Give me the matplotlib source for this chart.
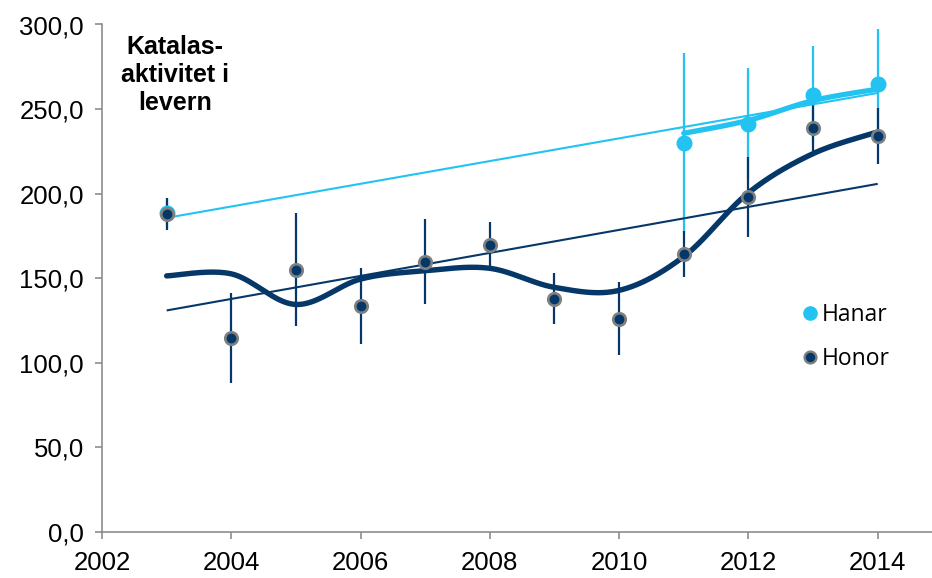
import numpy as np
import matplotlib
matplotlib.use("Agg")
import matplotlib.pyplot as plt
from matplotlib.lines import Line2D
from matplotlib import font_manager as fm

# Catalase activity in the liver, yearly means with standard deviation
years = [2003, 2004, 2005, 2006, 2007, 2008, 2009, 2010, 2011, 2012, 2013, 2014]
honor_mean = [188.0, 114.8, 155.0, 133.7, 159.8, 169.8, 138.0, 126.0, 164.5, 198.0, 239.0, 234.0]
honor_sd = [9.5, 26.7, 33.5, 22.3, 25.3, 13.6, 15.0, 21.5, 13.5, 23.5, 13.5, 16.7]

hanar_years = [2003, 2011, 2012, 2013, 2014]
hanar_mean = [188.6, 230.0, 241.4, 258.6, 265.0]
hanar_sd = [9.0, 53.0, 33.0, 28.5, 32.5]

y_ticks = [0, 50, 100, 150, 200, 250, 300]
x_ticks = [2002, 2004, 2006, 2008, 2010, 2012, 2014]

HANAR = "#22c3f1"
HONOR = "#053869"
AXIS = "#8c8c8c"


def find_font(family, bold=False):
    """Locate the regular-width file of a family (skip Narrow variants)."""
    for f in fm.fontManager.ttflist:
        if f.name != family or "narrow" in f.fname.lower():
            continue
        is_bold = f.weight in ("bold", 700) or (isinstance(f.weight, int) and f.weight >= 700)
        if is_bold == bold and f.style == "normal":
            return fm.FontProperties(fname=f.fname)
    return fm.FontProperties(family=[family, "DejaVu Sans"],
                             weight="bold" if bold else "normal")


arial = find_font("Liberation Sans")
arial_bold = find_font("Liberation Sans", bold=True)


def centered_average(x, y):
    """3-point centered moving average within contiguous yearly runs."""
    x = np.asarray(x, float)
    y = np.asarray(y, float)
    out = []
    for i in range(len(x)):
        vals = [y[i]]
        if i > 0 and x[i] - x[i - 1] == 1:
            vals.append(y[i - 1])
        if i < len(x) - 1 and x[i + 1] - x[i] == 1:
            vals.append(y[i + 1])
        out.append(np.mean(vals))
    return np.array(out)


def contiguous_runs(x):
    runs, start = [], 0
    for i in range(1, len(x) + 1):
        if i == len(x) or x[i] - x[i - 1] != 1:
            runs.append((start, i))
            start = i
    return runs


def smooth_curve(x, y, n=40):
    """Catmull-Rom style smoothed polyline through the points."""
    x = np.asarray(x, float)
    y = np.asarray(y, float)
    px = np.concatenate([[x[0]], x, [x[-1]]])
    py = np.concatenate([[y[0]], y, [y[-1]]])
    xs, ys = [], []
    t = np.linspace(0, 1, n)
    for i in range(1, len(px) - 2):
        p0 = np.array([px[i - 1], py[i - 1]])
        p1 = np.array([px[i], py[i]])
        p2 = np.array([px[i + 1], py[i + 1]])
        p3 = np.array([px[i + 2], py[i + 2]])
        c1 = p1 + (p2 - p0) / 6.0
        c2 = p2 - (p3 - p1) / 6.0
        b = ((1 - t) ** 3)[:, None] * p1 + (3 * (1 - t) ** 2 * t)[:, None] * c1 \
            + (3 * (1 - t) * t ** 2)[:, None] * c2 + (t ** 3)[:, None] * p2
        xs.append(b[:, 0])
        ys.append(b[:, 1])
    return np.concatenate(xs), np.concatenate(ys)


fig = plt.figure(figsize=(9.32, 5.78), dpi=100)
ax = fig.add_axes([102 / 932, 46 / 578, 830 / 932, 507.5 / 578])

# error bars (Honor drawn over Hanar)
ax.errorbar(hanar_years, hanar_mean, yerr=hanar_sd, fmt="none",
            ecolor=HANAR, elinewidth=1.6, capsize=0, zorder=2)
ax.errorbar(years, honor_mean, yerr=honor_sd, fmt="none",
            ecolor=HONOR, elinewidth=1.6, capsize=0, zorder=2.1)

# linear trends
for xs_, ys_, col in [(hanar_years, hanar_mean, HANAR), (years, honor_mean, HONOR)]:
    k, m = np.polyfit(xs_, ys_, 1)
    xx = np.array([min(xs_), max(xs_)], float)
    ax.plot(xx, k * xx + m, color=col, lw=1.5, zorder=3, solid_capstyle="butt")

# moving-average curves
for xs_, ys_, col, lw in [(hanar_years, hanar_mean, HANAR, 3.8),
                          (years, honor_mean, HONOR, 3.9)]:
    xa = np.asarray(xs_)
    ma = centered_average(xs_, ys_)
    for s, e in contiguous_runs(xa):
        if e - s < 2:
            continue
        cx, cy = smooth_curve(xa[s:e], ma[s:e])
        ax.plot(cx, cy, color=col, lw=lw, zorder=4, solid_capstyle="round")

# markers
ax.plot(hanar_years, hanar_mean, "o", ls="none", color=HANAR, ms=10.5,
        mec=HANAR, zorder=5)
ax.plot(years, honor_mean, "o", ls="none", color=HONOR, ms=9,
        mec="#808080", mew=1.9, zorder=6)

ax.set_xlim(2002, 2014.84)
ax.set_ylim(0, 300)
ax.set_xticks(x_ticks)
ax.set_yticks(y_ticks)
ax.set_xticklabels([str(t) for t in x_ticks])
ax.set_yticklabels([f"{t:.1f}".replace(".", ",") for t in y_ticks])
ax.tick_params(axis="both", direction="out", length=5, width=1.2,
               color=AXIS, labelcolor="black")
ax.tick_params(axis="x", pad=9)
ax.tick_params(axis="y", pad=8)
for lab in ax.get_xticklabels() + ax.get_yticklabels():
    lab.set_fontproperties(arial)
    lab.set_fontsize(18.5)
for side in ("top", "right"):
    ax.spines[side].set_visible(False)
for side in ("left", "bottom"):
    ax.spines[side].set_color(AXIS)
    ax.spines[side].set_linewidth(1.2)

ax.text(0.088, 0.98, "Katalas-\naktivitet i\nlevern", transform=ax.transAxes,
        ha="center", va="top", fontproperties=arial_bold, fontsize=18,
        linespacing=1.22)

handles = [
    Line2D([], [], marker="o", ls="none", color=HANAR, mec=HANAR, ms=9.5),
    Line2D([], [], marker="o", ls="none", color=HONOR, mec="#808080", mew=1.7, ms=8.5),
]
leg = ax.legend(handles, ["Hanar", "Honor"], loc="upper left",
                bbox_to_anchor=(782 / 932, (578 - 282) / 578),
                bbox_transform=fig.transFigure, frameon=False,
                handlelength=0.6, handletextpad=0.25, labelspacing=0.9,
                prop={"family": ["Open Sans", "DejaVu Sans"], "size": 16.5})

fig.savefig("out.png", dpi=100)
